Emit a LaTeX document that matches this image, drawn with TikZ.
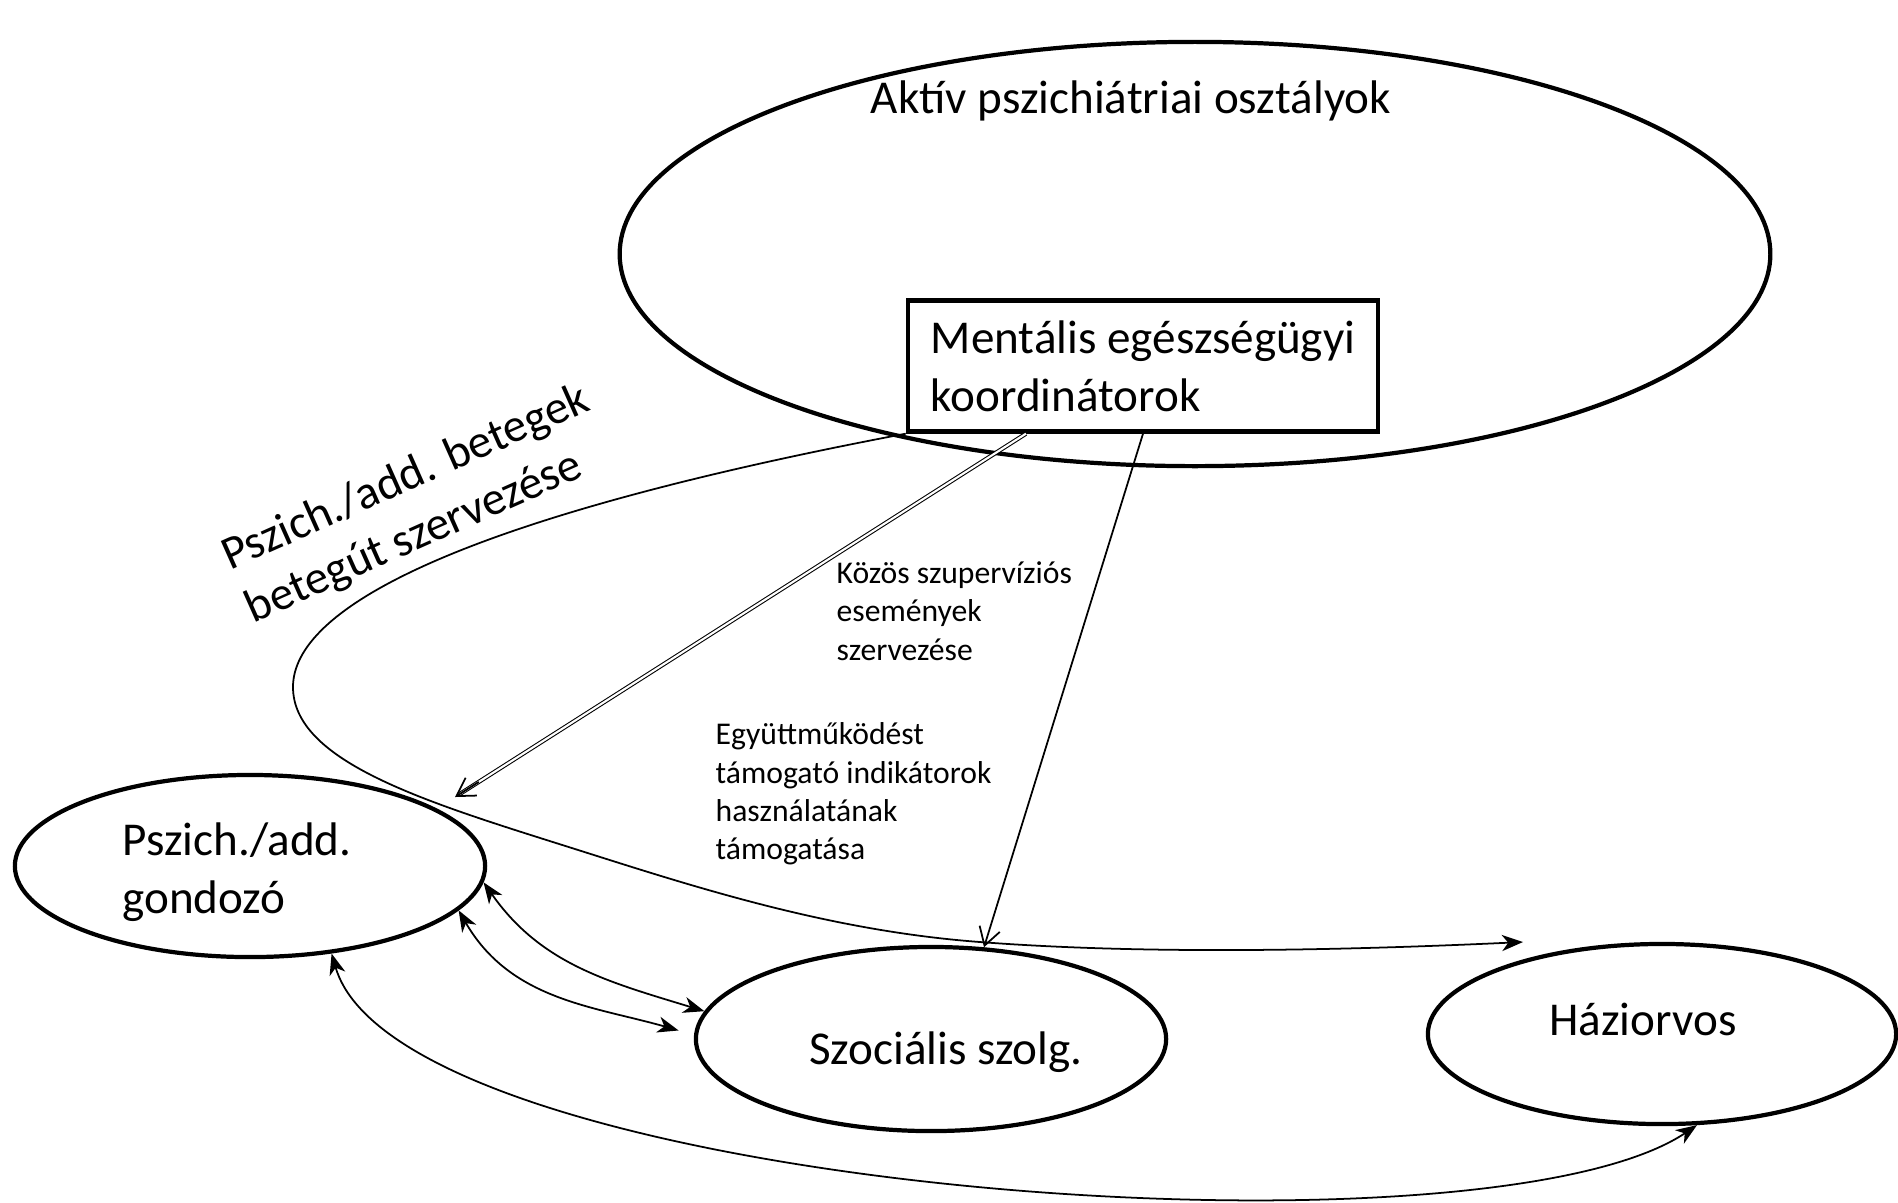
\documentclass[tikz,border=0pt]{standalone}
\usepackage{fontspec}
\setmainfont{Carlito}
\usetikzlibrary{shapes.geometric,arrows.meta,calc}

\begin{document}
\begin{tikzpicture}[x=0.01cm, y=-0.01cm,
  unit/.style={draw, ellipse, line width=1.2pt, inner sep=0pt},
  conn/.style={line width=0.5pt},
  big/.style={font=\fontsize{13.4}{16.4}\selectfont},
  small/.style={font=\fontsize{9}{10.9}\selectfont, align=left, inner sep=0pt},
  tip/.style={-{Straight Barb[length=5pt,width=6pt]}},
  head/.style={-{Stealth[length=6pt,width=4.6pt,inset=1.8pt]}},
  both/.style={{Stealth[length=6pt,width=4.6pt,inset=1.8pt]}-{Stealth[length=6pt,width=4.6pt,inset=1.8pt]}}]
\useasboundingbox (0,0) rectangle (1898,1202);

% Hospital side
\node[unit, minimum width=11.5cm, minimum height=4.24cm] (ward) at (1195,254) {};
\node[big] (wardname) at (1131,101) {Aktív pszichiátriai osztályok};
\node[draw, line width=1.2pt, big, align=left, minimum width=4.7cm, inner xsep=0.19cm,
  minimum height=1.31cm] (coord) at (1143,366) {Mentális egészségügyi\\koordinátorok};

% Outpatient side
\node[unit, minimum width=4.7cm, minimum height=1.82cm,
  label={[big, align=left, xshift=-0.13cm, yshift=-0.06cm]center:Pszich./add.\\gondozó}] (psz) at (250,866) {};
\node[unit, minimum width=4.7cm, minimum height=1.84cm,
  label={[big, xshift=0.15cm, yshift=-0.13cm]center:Szociális szolg.}] (szoc) at (931,1039) {};
\node[unit, minimum width=4.68cm, minimum height=1.8cm,
  label={[big, xshift=-0.19cm, yshift=0.15cm]center:Háziorvos}] (hazi) at (1662,1034) {};

% Free ends
\coordinate (hzend) at ($(hazi.center)+(-139,-92)$);
\coordinate (pszin) at ($(psz.center)+(205,-69)$);
\coordinate (supstart) at ([xshift=-1.17cm]coord.south);

% Patient pathway
\draw[conn, head] (coord.south west) .. controls (450,520) and (293,610) .. (293,687)
  .. controls (293,760) and (420,800) .. (556,843)
  .. controls (680,882) and (820,930) .. (980,942)
  .. controls (1150,955) and (1350,950) .. (hzend);

% Supervision
\draw[line width=0.3pt, double, double distance=0.6pt] (supstart) -- ($(pszin)!1pt!(supstart)$);
\draw[conn, tip] ($(pszin)!8pt!(supstart)$) -- (pszin);

% Indicators
\draw[conn, tip] (coord.south) -- (szoc.60);

% Mutual links
\draw[conn, both] (psz.-4) to[out=-55, in=163] (szoc.173);
\draw[conn, both, shorten >=1.6mm] (psz.-12) to[out=-60, in=164] (szoc.179);
\draw[conn, both] (psz.-47) .. controls (400,1190) and (1480,1270) .. (hazi.-69);

% Labels
\node[big, rotate=24, align=left] (pathlbl) at (418,505) {Pszich./add. betegek\\betegút szervezése};
\node[small, anchor=west] (suplbl) at (836,611) {Közös szupervíziós\\események\\szervezése};
\node[small, anchor=west] (indlbl) at (715,794) {Együttműködést\\támogató indikátorok\\használatának\\támogatása};
\end{tikzpicture}
\end{document}
